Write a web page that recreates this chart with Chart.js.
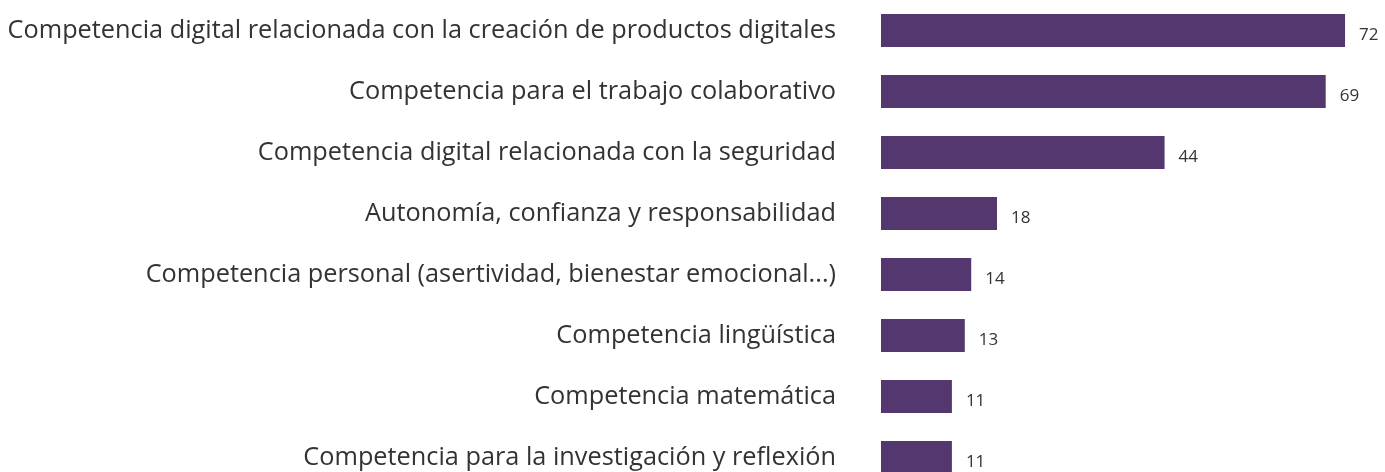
<!DOCTYPE html>
<html lang="es">
<head>
<meta charset="utf-8">
<script src="https://cdn.jsdelivr.net/npm/chart.js@4.4.0/dist/chart.umd.min.js"></script>
<style>
    html, body { margin: 0; padding: 0; background: #fff; overflow: hidden; }
    #wrap { position: relative; width: 1385px; height: 488px; }
</style>
</head>
<body>
<div id="wrap"><canvas id="competenciasChart"></canvas></div>
<script>
document.addEventListener('DOMContentLoaded', function() {

    const categorias = [
        'Competencia digital relacionada con la creación de productos digitales',
        'Competencia para el trabajo colaborativo',
        'Competencia digital relacionada con la seguridad',
        'Autonomía, confianza y responsabilidad',
        'Competencia personal (asertividad, bienestar emocional...)',
        'Competencia lingüística',
        'Competencia matemática',
        'Competencia para la investigación y reflexión'
    ];
    const valores = [72, 69, 44, 18, 14, 13, 11, 11];

    // Etiquetas de valor a la derecha de cada barra
    const etiquetasValor = {
        id: 'etiquetasValor',
        afterDatasetsDraw(chart) {
            const ctx = chart.ctx;
            const meta = chart.getDatasetMeta(0);
            ctx.save();
            ctx.font = '17px "Open Sans"';
            ctx.fillStyle = '#333333';
            ctx.textAlign = 'left';
            ctx.textBaseline = 'middle';
            meta.data.forEach((bar, i) => {
                ctx.fillText(valores[i], bar.x + 14, bar.y + 5);
            });
            ctx.restore();
        }
    };

    new Chart(document.getElementById('competenciasChart').getContext('2d'), {
        type: 'bar',
        data: {
            labels: categorias,
            datasets: [{
                data: valores,
                backgroundColor: '#54376f',
                barPercentage: 0.54,
                categoryPercentage: 1.0
            }]
        },
        options: {
            indexAxis: 'y',
            responsive: true,
            maintainAspectRatio: false,
            animation: false,
            layout: { padding: 0 },
            plugins: {
                legend: { display: false },
                tooltip: { enabled: false }
            },
            scales: {
                x: {
                    display: false,
                    min: 0,
                    max: 78.2
                },
                y: {
                    grid: { display: false, drawTicks: false },
                    border: { display: false },
                    afterFit: (scale) => {
                        // ancho fijo y sin relleno vertical extra
                        scale.width = 881;
                        scale.paddingTop = 0;
                        scale.paddingBottom = 0;
                    },
                    ticks: {
                        padding: 45,
                        color: '#333333',
                        font: { family: '"Open Sans"', size: 25.3 }
                    }
                }
            }
        },
        plugins: [etiquetasValor]
    });
});
</script>
</body>
</html>
